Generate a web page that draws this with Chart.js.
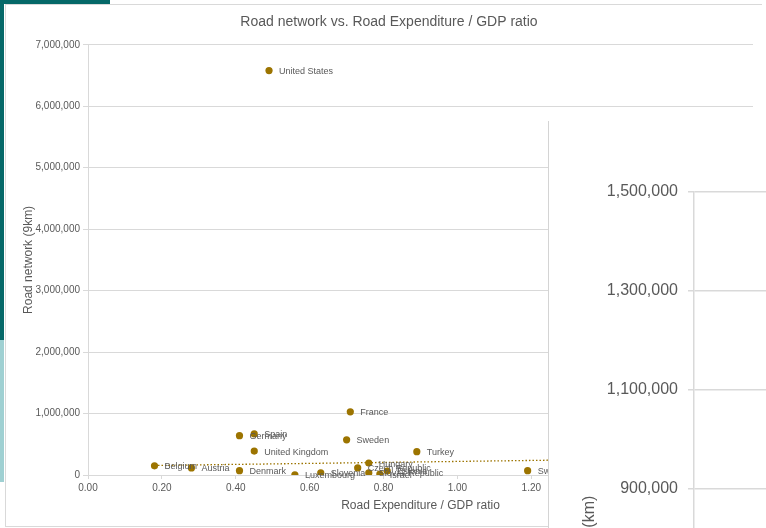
<!DOCTYPE html>
<html>
<head>
<meta charset="utf-8">
<script src="https://cdn.jsdelivr.net/npm/chart.js@4.4.0/dist/chart.umd.min.js"></script>
<style>
  html, body { margin: 0; padding: 0; width: 766px; height: 528px; overflow: hidden; background: #fff; }
  body { position: relative; }
  #tealTop   { position: absolute; left: 0; top: 0; width: 110px; height: 4px; background: #056868; }
  #tealLeft  { position: absolute; left: 0; top: 0; width: 4px; height: 340px; background: #056868; }
  #tealLight { position: absolute; left: 0; top: 340px; width: 4px; height: 142px; background: #9fd0d2; }
  #frame { position: absolute; left: 5px; top: 4px; width: 757px; height: 523px; border: 1px solid #d9d9d9; border-right: none; box-sizing: border-box; }
  #mainChart { position: absolute; left: 0; top: 0; }
  #inset { position: absolute; left: 548px; top: 121px; width: 218px; height: 407px; overflow: hidden; background: #fff; border-left: 1.5px solid #d4d4d4; box-sizing: border-box; }
  #insetChart { position: absolute; left: -1.5px; top: 0; }
</style>
</head>
<body>
<div id="tealTop"></div>
<div id="tealLeft"></div>
<div id="tealLight"></div>
<div id="frame"></div>
<canvas id="mainChart" width="773" height="528"></canvas>
<div id="inset"><canvas id="insetChart" width="240" height="900"></canvas></div>

<script>
// Country data: road expenditure as share of GDP (%) and road network length (km)
const countries = [
  'United States', 'France', 'Spain', 'Germany', 'United Kingdom', 'Sweden',
  'Turkey', 'Belgium', 'Austria', 'Denmark', 'Luxembourg', 'Slovenia',
  'Czech Republic', 'Hungary', 'Slovak Republic', 'Israel', 'Estonia', 'Switzerland'
];
const expenditureRatio = [
  0.49, 0.71, 0.45, 0.41, 0.45, 0.70,
  0.89, 0.18, 0.28, 0.41, 0.56, 0.63,
  0.73, 0.76, 0.76, 0.79, 0.81, 1.19
];
const roadNetworkKm = [
  6580000, 1028000, 668000, 640000, 390000, 573000,
  380000, 150000, 115000, 70000, 3000, 35000,
  115000, 195000, 35000, 15000, 65000, 70000
];

// Dotted trend line endpoints
const trendRatio = [0.18, 1.80];
const trendKm = [155000, 285000];

// Axis tick settings
const mainYTickStep = 1000000;
const mainXTickStep = 0.2;
const insetTicks = [1500000, 1300000, 1100000, 900000, 700000, 500000, 300000, 100000];

const FONT = '"Liberation Sans", Arial, sans-serif';
const TEXT = '#595959';
const GRID = '#d9d9d9';
const MARK = '#9c7400';

const fmtInt = v => Math.round(v).toLocaleString('en-US');

// Country names next to their points
const pointLabels = {
  id: 'pointLabels',
  afterDatasetsDraw(chart) {
    const meta = chart.getDatasetMeta(0);
    const ctx = chart.ctx;
    ctx.save();
    ctx.font = '9px ' + FONT;
    ctx.fillStyle = TEXT;
    ctx.textBaseline = 'middle';
    meta.data.forEach((pt, i) => ctx.fillText(countries[i], pt.x + 10, pt.y + 1));
    ctx.restore();
  }
};

new Chart(document.getElementById('mainChart'), {
  type: 'scatter',
  data: {
    datasets: [
      {
        label: 'Countries',
        data: expenditureRatio.map((x, i) => ({ x, y: roadNetworkKm[i] })),
        backgroundColor: MARK,
        borderWidth: 0,
        pointRadius: 3.6,
        order: 1
      },
      {
        label: 'Trend',
        data: trendRatio.map((x, i) => ({ x, y: trendKm[i] })),
        showLine: true,
        borderColor: MARK,
        borderWidth: 1.3,
        borderDash: [1.5, 2],
        pointRadius: 0,
        fill: false,
        order: 2
      }
    ]
  },
  options: {
    responsive: false,
    animation: false,
    layout: { padding: { left: 5, right: 0, top: 0, bottom: 2 } },
    plugins: {
      legend: { display: false },
      tooltip: { enabled: false },
      title: {
        display: true,
        text: 'Road network vs. Road Expenditure / GDP ratio',
        color: TEXT,
        font: { family: FONT, size: 14, weight: 'normal', lineHeight: 1.2 },
        padding: { top: 14, bottom: 14 }
      }
    },
    scales: {
      x: {
        type: 'linear',
        min: 0,
        max: 1.8,
        ticks: {
          stepSize: mainXTickStep,
          color: TEXT,
          font: { family: FONT, size: 10 },
          padding: 3,
          callback: v => Number(v).toFixed(2)
        },
        grid: { display: true, drawOnChartArea: false, drawTicks: true, tickLength: 4, color: GRID },
        border: { display: true, color: GRID },
        title: {
          display: true,
          text: 'Road Expenditure / GDP ratio',
          color: TEXT,
          font: { family: FONT, size: 12, lineHeight: 1.2 },
          padding: { top: 4, bottom: 13 }
        },
        afterFit(s) { s.height = 51; }
      },
      y: {
        type: 'linear',
        min: 0,
        max: 7000000,
        ticks: {
          stepSize: mainYTickStep,
          color: TEXT,
          font: { family: FONT, size: 10 },
          padding: 3,
          callback: v => fmtInt(v)
        },
        grid: { color: GRID, tickLength: 5 },
        border: { display: true, color: GRID },
        title: {
          display: true,
          text: 'Road network (9km)',
          color: TEXT,
          font: { family: FONT, size: 12, lineHeight: 1.2 },
          padding: { top: 16, bottom: 4 }
        },
        afterFit(s) { s.width = 83; }
      },
      pad: {
        type: 'linear',
        position: 'right',
        display: true,
        grid: { display: false },
        border: { display: false },
        ticks: { display: false },
        afterFit(s) { s.width = 20; }
      }
    }
  },
  plugins: [pointLabels]
});

// Enlarged view of the road network axis
new Chart(document.getElementById('insetChart'), {
  type: 'scatter',
  data: { datasets: [] },
  options: {
    responsive: false,
    animation: false,
    layout: { padding: { left: 0, right: 0, top: 71, bottom: 86.5 } },
    plugins: { legend: { display: false }, tooltip: { enabled: false }, title: { display: false } },
    scales: {
      x: { type: 'linear', min: 0, max: 1.8, display: false },
      y: {
        type: 'linear',
        min: 0,
        max: 1500000,
        afterBuildTicks(s) { s.ticks = insetTicks.map(v => ({ value: v })); },
        ticks: {
          color: TEXT,
          font: { family: FONT, size: 16 },
          padding: 10,
          callback: v => fmtInt(v)
        },
        grid: { color: GRID, lineWidth: 1.5, tickLength: 6 },
        border: { display: true, color: GRID, width: 1.5 },
        title: {
          display: true,
          text: 'Road network (km)',
          color: TEXT,
          font: { family: FONT, size: 16, lineHeight: 1.2 },
          padding: { top: 32, bottom: 4 }
        },
        afterFit(s) { s.width = 146; }
      }
    }
  }
});
</script>
</body>
</html>
